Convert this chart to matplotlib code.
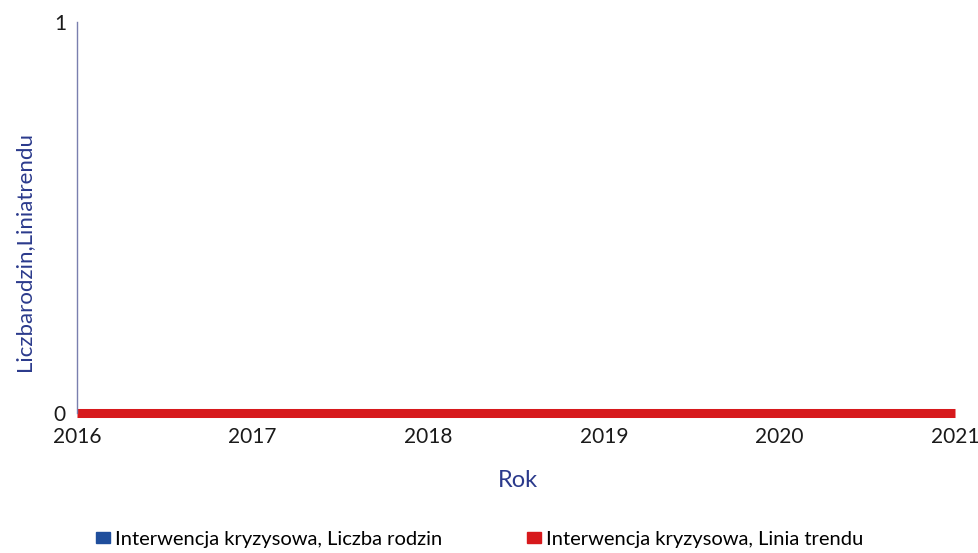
import matplotlib
matplotlib.use("Agg")
import matplotlib.pyplot as plt
from matplotlib.patches import Patch

# dane z wykresu
lata = [2016, 2017, 2018, 2019, 2020, 2021]
liczba_rodzin = [0, 0, 0, 0, 0, 0]
linia_trendu = [0, 0, 0, 0, 0, 0]

plt.rcParams['font.family'] = ['Lato', 'DejaVu Sans']

fig = plt.figure(figsize=(9.79, 5.53), dpi=100)
ax = fig.add_axes([0.0787, 0.2532, 0.8968, 0.7068])

ax.bar(lata, liczba_rodzin, width=0.6, color='#1f4e9c')
ax.plot(lata, linia_trendu, color='#d7191c', linewidth=6.5, solid_capstyle='butt', clip_on=False)

ax.set_xlim(2016, 2021)
ax.set_ylim(0, 1)
ax.set_yticks([0, 1])
ax.set_xticks(lata)
ax.tick_params(axis='both', length=0, labelsize=15, colors='#1a1a1a')
ax.tick_params(axis='x', pad=10)
ax.tick_params(axis='y', pad=8)

for s in ['top', 'right', 'bottom']:
    ax.spines[s].set_visible(False)
ax.spines['left'].set_color('#7a7fae')
ax.spines['left'].set_linewidth(1.0)

fig.text(0.025, 0.545, 'Liczbarodzin,Liniatrendu', rotation=90, ha='center', va='center',
         fontsize=16, color='#2b3a8c')
fig.text(0.529, 0.132, 'Rok', ha='center', va='center', fontsize=17, color='#2b3a8c')

handles = [Patch(color='#1f4e9c', label='Interwencja kryzysowa, Liczba rodzin'),
           Patch(color='#d7191c', label='Interwencja kryzysowa, Linia trendu')]
fig.legend(handles=handles, loc='center', bbox_to_anchor=(0.49, 0.025), ncol=2,
           frameon=False, fontsize=14.5, handlelength=0.7, handleheight=0.5,
           handletextpad=0.25, columnspacing=4.2)

fig.savefig('out.png', dpi=100)
